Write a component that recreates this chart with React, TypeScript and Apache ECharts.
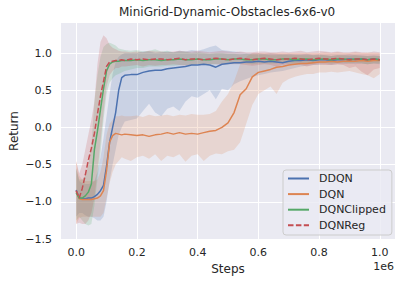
import React, { useEffect, useRef } from 'react';
import * as echarts from 'echarts';

// x positions, in units of 1e6 steps
const STEPS = [
  0, 0.01, 0.02, 0.03, 0.04, 0.05, 0.06, 0.07, 0.08, 0.09, 0.1, 0.11, 0.12, 0.13, 0.14, 0.15, 0.16,
  0.18, 0.2, 0.22, 0.24, 0.26, 0.28,
  0.3, 0.32, 0.34, 0.36, 0.38, 0.4,
  0.42, 0.44, 0.46, 0.48, 0.5, 0.52,
  0.54, 0.56, 0.58, 0.6, 0.62, 0.64,
  0.66, 0.68, 0.7, 0.72, 0.74, 0.76,
  0.78, 0.8, 0.82, 0.84, 0.86, 0.88,
  0.9, 0.92, 0.94, 0.96, 0.98, 1.0,
];

const DDQN_MEAN = [
  -0.84, -0.95, -0.96, -0.96, -0.95, -0.95, -0.93, -0.9, -0.85, -0.78, -0.52, -0.2, 0.0, 0.2, 0.5, 0.67, 0.7,
  0.71, 0.71, 0.74, 0.76, 0.77, 0.77,
  0.79, 0.8, 0.81, 0.82, 0.84, 0.84,
  0.85, 0.84, 0.81, 0.85, 0.86, 0.87,
  0.87, 0.88, 0.88, 0.89, 0.88, 0.89,
  0.88, 0.87, 0.89, 0.9, 0.9, 0.91,
  0.9, 0.91, 0.91, 0.9, 0.91, 0.91,
  0.92, 0.91, 0.92, 0.91, 0.92, 0.91,
];
const DDQN_LOW = [
  -1.2, -1.15, -1.15, -1.18, -1.2, -1.2, -1.22, -1.25, -1.25, -1.2, -1.0, -0.72, -0.5, -0.3, -0.1, 0.0, 0.08,
  0.1, 0.12, 0.22, 0.32, 0.2, 0.15,
  0.25, 0.28, 0.22, 0.35, 0.42, 0.4,
  0.45, 0.5, 0.38, 0.52, 0.5, 0.58,
  0.62, 0.65, 0.68, 0.7, 0.72, 0.74,
  0.75, 0.76, 0.78, 0.8, 0.82, 0.83,
  0.84, 0.84, 0.85, 0.84, 0.85, 0.85,
  0.86, 0.85, 0.86, 0.85, 0.86, 0.85,
];
const DDQN_HIGH = [
  -0.55, -0.72, -0.75, -0.76, -0.76, -0.75, -0.72, -0.6, -0.4, -0.15, 0.15, 0.45, 0.72, 0.88, 0.95, 0.98, 1.0,
  1.0, 1.0, 1.02, 1.02, 1.0, 1.01,
  1.02, 1.01, 1.03, 1.02, 1.04, 1.03,
  1.05, 1.08, 1.1, 1.04, 1.03, 1.02,
  1.01, 1.0, 1.0, 1.0, 0.99, 1.0,
  0.99, 0.98, 0.99, 0.98, 0.98, 0.99,
  0.97, 0.98, 0.97, 0.96, 0.97, 0.97,
  0.98, 0.97, 0.97, 0.96, 0.97, 0.96,
];

const DQN_MEAN = [
  -0.86, -0.96, -0.97, -0.97, -0.97, -0.97, -0.96, -0.95, -0.92, -0.85, -0.58, -0.2, -0.11, -0.08, -0.09, -0.1, -0.09,
  -0.1, -0.11, -0.1, -0.12, -0.1, -0.09,
  -0.07, -0.09, -0.07, -0.09, -0.08, -0.09,
  -0.07, -0.05, -0.04, 0.0, 0.06, 0.2,
  0.44, 0.52, 0.68, 0.74, 0.76, 0.78,
  0.81, 0.82, 0.84, 0.85, 0.86, 0.86,
  0.87, 0.88, 0.88, 0.89, 0.88, 0.89,
  0.89, 0.89, 0.9, 0.89, 0.9, 0.9,
];
const DQN_LOW = [
  -1.3, -1.22, -1.2, -1.2, -1.2, -1.2, -1.2, -1.2, -1.2, -1.15, -0.95, -0.75, -0.6, -0.5, -0.45, -0.4, -0.42,
  -0.45, -0.4, -0.38, -0.42, -0.36, -0.45,
  -0.38, -0.4, -0.36, -0.46, -0.38, -0.36,
  -0.45, -0.38, -0.35, -0.36, -0.32, -0.3,
  -0.2, 0.05, 0.3, 0.45, 0.5, 0.55,
  0.45, 0.6, 0.65, 0.68, 0.7, 0.72,
  0.72, 0.74, 0.74, 0.75, 0.74, 0.75,
  0.76, 0.74, 0.72, 0.7, 0.66, 0.72,
];
const DQN_HIGH = [
  -0.45, -0.65, -0.7, -0.72, -0.72, -0.72, -0.72, -0.7, -0.6, -0.4, -0.1, 0.05, 0.1, 0.15, 0.15, 0.16, 0.15,
  0.15, 0.16, 0.14, 0.17, 0.15, 0.16,
  0.17, 0.15, 0.17, 0.16, 0.18, 0.17,
  0.17, 0.18, 0.22, 0.35, 0.45, 0.62,
  0.85, 0.95, 1.0, 1.0, 1.0, 1.0,
  1.0, 1.0, 1.0, 1.0, 1.0, 1.0,
  1.0, 1.0, 1.01, 1.0, 1.01, 1.0,
  1.0, 1.01, 1.0, 1.01, 1.0, 1.0,
];

const CLIPPED_MEAN = [
  -0.88, -0.95, -0.95, -0.92, -0.87, -0.76, -0.3, -0.05, 0.24, 0.52, 0.76, 0.85, 0.88, 0.89, 0.89, 0.9, 0.9,
  0.9, 0.91, 0.9, 0.91, 0.91, 0.9,
  0.91, 0.91, 0.92, 0.91, 0.91, 0.92,
  0.91, 0.91, 0.92, 0.92, 0.91, 0.92,
  0.92, 0.91, 0.91, 0.92, 0.92, 0.91,
  0.91, 0.92, 0.92, 0.91, 0.92, 0.92,
  0.91, 0.92, 0.92, 0.91, 0.92, 0.92,
  0.91, 0.92, 0.92, 0.91, 0.92, 0.91,
];
const CLIPPED_LOW = [
  -1.25, -1.2, -1.25, -1.3, -1.32, -1.3, -1.05, -0.7, -0.35, 0.1, 0.45, 0.6, 0.66, 0.7, 0.72, 0.74, 0.76,
  0.78, 0.8, 0.8, 0.82, 0.82, 0.82,
  0.83, 0.83, 0.84, 0.84, 0.84, 0.85,
  0.84, 0.85, 0.85, 0.86, 0.85, 0.86,
  0.86, 0.86, 0.85, 0.86, 0.86, 0.86,
  0.86, 0.87, 0.86, 0.86, 0.87, 0.87,
  0.86, 0.87, 0.87, 0.86, 0.87, 0.87,
  0.86, 0.87, 0.86, 0.85, 0.86, 0.86,
];
const CLIPPED_HIGH = [
  -0.55, -0.7, -0.7, -0.65, -0.5, -0.25, 0.35, 0.7, 0.95, 1.08, 1.12, 1.14, 1.12, 1.1, 1.06, 1.05, 1.04,
  1.03, 1.04, 1.02, 1.03, 1.05, 1.02,
  1.03, 1.01, 1.02, 1.02, 1.0, 1.01,
  1.0, 0.99, 1.0, 1.0, 0.99, 0.99,
  0.98, 0.99, 0.98, 0.98, 0.98, 0.97,
  0.97, 0.98, 0.97, 0.97, 0.97, 0.97,
  0.97, 0.97, 0.97, 0.96, 0.97, 0.97,
  0.96, 0.97, 0.96, 0.96, 0.96, 0.96,
];

const REG_MEAN = [
  -0.85, -0.95, -0.82, -0.64, -0.44, -0.28, -0.08, 0.18, 0.42, 0.62, 0.82, 0.88, 0.89, 0.9, 0.9, 0.91, 0.9,
  0.92, 0.91, 0.92, 0.91, 0.92, 0.92,
  0.91, 0.92, 0.93, 0.91, 0.92, 0.92,
  0.91, 0.92, 0.93, 0.92, 0.91, 0.92,
  0.93, 0.92, 0.91, 0.92, 0.93, 0.92,
  0.91, 0.92, 0.92, 0.93, 0.92, 0.91,
  0.92, 0.93, 0.92, 0.92, 0.93, 0.92,
  0.91, 0.92, 0.92, 0.91, 0.92, 0.91,
];
const REG_LOW = [
  -1.3, -1.28, -1.3, -1.3, -1.25, -1.15, -0.95, -0.6, -0.2, 0.2, 0.55, 0.7, 0.76, 0.8, 0.8, 0.82, 0.82,
  0.83, 0.84, 0.82, 0.84, 0.83, 0.84,
  0.84, 0.85, 0.84, 0.83, 0.84, 0.85,
  0.84, 0.85, 0.85, 0.84, 0.85, 0.85,
  0.85, 0.84, 0.83, 0.84, 0.85, 0.84,
  0.82, 0.84, 0.85, 0.85, 0.84, 0.82,
  0.84, 0.85, 0.84, 0.84, 0.85, 0.84,
  0.8, 0.82, 0.75, 0.7, 0.78, 0.8,
];
const REG_HIGH = [
  -0.45, -0.62, -0.5, -0.3, -0.1, 0.1, 0.35, 0.85, 1.15, 1.24, 1.2, 1.11, 1.07, 1.05, 1.03, 1.02, 1.02,
  1.01, 1.02, 1.01, 1.03, 1.02, 1.02,
  1.01, 1.02, 1.03, 1.02, 1.02, 1.03,
  1.02, 1.01, 1.02, 1.03, 1.02, 1.01,
  1.02, 1.01, 1.01, 1.02, 1.02, 1.01,
  1.01, 1.02, 1.01, 1.02, 1.03, 1.01,
  1.02, 1.03, 1.02, 1.01, 1.02, 1.01,
  1.01, 1.02, 1.01, 1.0, 1.02, 1.01,
];

const X_TICKS = [0, 0.2, 0.4, 0.6, 0.8, 1.0];
const Y_TICKS = [-1.5, -1.0, -0.5, 0.0, 0.5, 1.0];

const SERIES = [
  { name: 'DDQN', color: '#4C72B0', mean: DDQN_MEAN, low: DDQN_LOW, high: DDQN_HIGH, dashed: false },
  { name: 'DQN', color: '#DD8452', mean: DQN_MEAN, low: DQN_LOW, high: DQN_HIGH, dashed: false },
  { name: 'DQNClipped', color: '#55A868', mean: CLIPPED_MEAN, low: CLIPPED_LOW, high: CLIPPED_HIGH, dashed: false },
  { name: 'DQNReg', color: '#C44E52', mean: REG_MEAN, low: REG_LOW, high: REG_HIGH, dashed: true },
];

const FONT = 'DejaVu Sans';
const TEXT = '#262626';

export default function App() {
  const ref = useRef<HTMLDivElement>(null);
  useEffect(() => {
    if (!ref.current) return;
    const chart = echarts.init(ref.current, undefined, { renderer: 'svg' });

    const bands = SERIES.map((s) => ({
      type: 'custom',
      name: s.name + ' band',
      silent: true,
      z: 1,
      data: [[0, 0]],
      renderItem: (_params: any, api: any) => {
        const top = s.high.map((v, i) => api.coord([STEPS[i], v]));
        const bot = s.low.map((v, i) => api.coord([STEPS[i], v])).reverse();
        return {
          type: 'polygon',
          shape: { points: top.concat(bot) },
          style: { fill: s.color, opacity: 0.2 },
        };
      },
    }));

    const lines = SERIES.map((s) => ({
      type: 'line',
      name: s.name,
      data: STEPS.map((x, i) => [x, s.mean[i]]),
      showSymbol: false,
      symbol: 'none',
      z: 3,
      itemStyle: { color: s.color },
      lineStyle: { color: s.color, width: 1.5, type: s.dashed ? [5.5, 2.4] : 'solid' },
      emphasis: { disabled: true },
    }));

    chart.setOption({
      animation: false,
      backgroundColor: '#ffffff',
      title: {
        text: 'MiniGrid-Dynamic-Obstacles-6x6-v0',
        left: 119,
        top: 6,
        padding: 0,
        textStyle: { fontFamily: FONT, fontSize: 12, fontWeight: 'normal', color: TEXT },
      },
      grid: {
        left: 61,
        right: 13,
        top: 23,
        bottom: 45,
        show: true,
        backgroundColor: '#EAEAF2',
        borderWidth: 0,
        containLabel: false,
        outerBoundsMode: 'none',
      },
      legend: {
        data: SERIES.map((s) => s.name),
        orient: 'vertical',
        left: 283,
        top: 170,
        itemWidth: 21,
        itemHeight: 12,
        itemGap: 3.6,
        padding: [2.5, 6, 3.7, 4],
        backgroundColor: 'rgba(234,234,242,0.8)',
        borderColor: '#cccccc',
        borderWidth: 1,
        borderRadius: 3,
        selectedMode: false,
        itemStyle: { opacity: 0 },
        lineStyle: { width: 2 },
        textStyle: { fontFamily: FONT, fontSize: 11, color: TEXT, lineHeight: 12, padding: [0, 0, 0, 5] },
      },
      xAxis: {
        type: 'value',
        min: -0.05,
        max: 1.05,
        name: 'Steps',
        nameLocation: 'middle',
        nameGap: 24,
        nameMoveOverlap: false,
        nameTextStyle: { fontFamily: FONT, fontSize: 12, color: TEXT },
        axisLine: { show: false },
        axisTick: { show: false, customValues: X_TICKS },
        axisLabel: {
          customValues: X_TICKS,
          fontFamily: FONT,
          fontSize: 11,
          color: TEXT,
          margin: 8,
          formatter: (v: number) => v.toFixed(1),
        },
        splitLine: { show: true, lineStyle: { color: '#ffffff', width: 1 } },
      },
      yAxis: {
        type: 'value',
        min: -1.5,
        max: 1.404,
        name: 'Return',
        nameLocation: 'middle',
        nameGap: 41,
        nameMoveOverlap: false,
        nameTextStyle: { fontFamily: FONT, fontSize: 12, color: TEXT },
        axisLine: { show: false },
        axisTick: { show: false, customValues: Y_TICKS },
        axisLabel: {
          customValues: Y_TICKS,
          fontFamily: FONT,
          fontSize: 11,
          color: TEXT,
          margin: 9,
          formatter: (v: number) => (v < 0 ? '\u2212' : '') + Math.abs(v).toFixed(1),
        },
        splitLine: { show: true, lineStyle: { color: '#ffffff', width: 1 } },
      },
      graphic: [
        {
          type: 'text',
          x: 394,
          y: 266,
          style: {
            text: '1e6',
            fontFamily: FONT,
            fontSize: 11,
            fill: TEXT,
            textAlign: 'right',
            textVerticalAlign: 'middle',
          },
        },
      ],
      series: [...bands, ...lines],
    });
    return () => chart.dispose();
  }, []);
  return (
    <div
      ref={ref}
      style={{ position: 'fixed', left: 0, top: 0, width: 408, height: 284 }}
    />
  );
}
